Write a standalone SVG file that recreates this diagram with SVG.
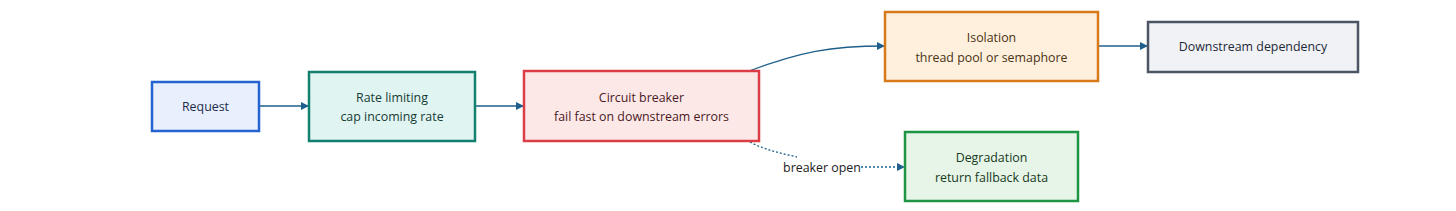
<svg xmlns="http://www.w3.org/2000/svg" width="1456" height="211" viewBox="0 0 1456 211">
<defs>
<style>
.n rect{stroke-width:2.5}
.n text{font-family:"Open Sans","Noto Sans",sans-serif;font-size:12.4px;text-anchor:middle}
.e{fill:none;stroke:#1f5f8b;stroke-width:1.3}
.lbl{font-family:"Open Sans","Noto Sans",sans-serif;font-size:12.4px;fill:#222}
</style>
<marker id="ah" viewBox="0 0 10 10" refX="10" refY="5" markerWidth="8" markerHeight="8" markerUnits="userSpaceOnUse" orient="auto"><path d="M0,0 L10,5 L0,10 z" fill="#1f5f8b"/></marker>
</defs>
<rect width="1456" height="211" fill="#fff"/>
<g id="connectors">
<path class="e" d="M260,106 L309,106" marker-end="url(#ah)"/>
<path class="e" d="M475,106 L524,106" marker-end="url(#ah)"/>
<path class="e" d="M749,71 C800,52 830,46 885,46" marker-end="url(#ah)"/>
<path class="e" d="M1098,46 L1148,46" marker-end="url(#ah)"/>
<path class="e" d="M750,142 C765,150 780,153 797,157" stroke-dasharray="2,2"/>
<path class="e" d="M861,167 L905,167" stroke-dasharray="2,2" marker-end="url(#ah)"/>
<text class="lbl" x="822" y="172" text-anchor="middle">breaker open</text>
</g>
<g id="request" class="n"><rect x="152" y="82" width="107" height="49" fill="#e8f0fd" stroke="#2563d0"/><text x="205.5" y="111" fill="#1e2a4a">Request</text></g>
<g id="rate" class="n"><rect x="309" y="72" width="166" height="69" fill="#e0f4f1" stroke="#13806f"/><text x="392" y="102" fill="#173c36">Rate limiting</text><text x="392" y="121" fill="#173c36">cap incoming rate</text></g>
<g id="breaker" class="n"><rect x="524" y="71" width="235" height="70" fill="#fde8e8" stroke="#dc3c46"/><text x="641.5" y="102" fill="#4a1a1f">Circuit breaker</text><text x="641.5" y="121" fill="#4a1a1f">fail fast on downstream errors</text></g>
<g id="isolation" class="n"><rect x="885" y="12" width="213" height="69" fill="#fef0dc" stroke="#d97a1a"/><text x="991.5" y="42" fill="#4a3214">Isolation</text><text x="991.5" y="62" fill="#4a3214">thread pool or semaphore</text></g>
<g id="downstream" class="n"><rect x="1148" y="22" width="210" height="50" fill="#f0f2f5" stroke="#4b5563"/><text x="1253" y="51" fill="#1f2937">Downstream dependency</text></g>
<g id="degradation" class="n"><rect x="905" y="132" width="173" height="69" fill="#e6f5e8" stroke="#1e9445"/><text x="991.5" y="162" fill="#173a22">Degradation</text><text x="991.5" y="182" fill="#173a22">return fallback data</text></g>
</svg>
